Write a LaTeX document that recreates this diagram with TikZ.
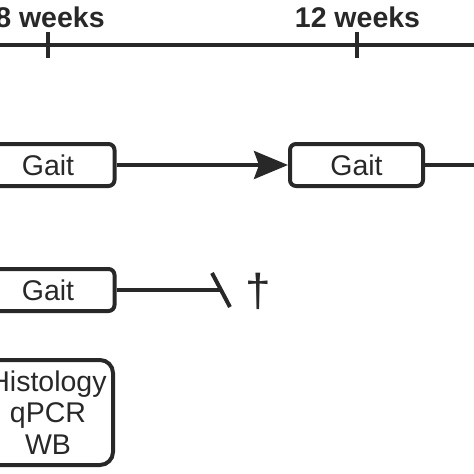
\documentclass[tikz,border=0pt]{standalone}
\usepackage{fontspec}
\setmainfont{Liberation Sans}
\usetikzlibrary{arrows.meta}
\definecolor{dk}{RGB}{40,40,40}
\tikzset{
  gaitbox/.style={draw=dk, line width=4pt, rounded corners=6pt, minimum width=133pt, minimum height=42pt, inner sep=0pt, outer sep=2pt, text=dk, font=\fontsize{28.5}{31.5}\selectfont},
  labbox/.style={gaitbox, rounded corners=13pt, minimum width=130pt, minimum height=105pt, align=center},
  weeklabel/.style={anchor=base, inner sep=0pt, text=dk, font=\fontsize{28.5}{31.5}\selectfont\bfseries},
  conn/.style={draw=dk, line width=3.8pt},
  tline/.style={draw=dk, line width=4pt},
}
\begin{document}
\begin{tikzpicture}[x=1pt, y=-1pt]
\useasboundingbox (0,0) rectangle (474,474);
% timeline
\coordinate (tl0) at (-10,45);
\coordinate (tl1) at (490,45);
\coordinate (t8a) at (48,32);
\coordinate (t8b) at (48,58);
\coordinate (t12a) at (357,32);
\coordinate (t12b) at (357,58);
\draw[tline] (tl0) -- (tl1);
\draw[tline] (t8a) -- (t8b);
\draw[tline] (t12a) -- (t12b);
\node[weeklabel] (w8) at (50,27) {8 weeks};
\node[weeklabel] (w12) at (357.5,27) {12 weeks};
% row 1
\node[gaitbox] (g1) at (48,165) {Gait};
\node[gaitbox] (g2) at (356.5,165) {Gait};
\coordinate (r1end) at (490,165);
\draw[conn, -{Stealth[length=34pt, width=28pt, inset=5pt]}] (g1.east) -- (g2.west);
\draw[conn] (g2.east) -- (r1end);
% row 2
\node[gaitbox] (g3) at (48,290) {Gait};
\coordinate (stop) at (221,290);
\coordinate (bara) at (212,273);
\coordinate (barb) at (230,307);
\draw[conn] (g3.east) -- (stop);
\draw[conn, line width=4pt] (bara) -- (barb);
\node[inner sep=0pt, text=dk, font=\fontsize{46}{46}\selectfont] (dag) at (258,291) {†};
% row 3
\node[labbox] (h) at (48,412.5) {Histology\\qPCR\\WB};
\end{tikzpicture}
\end{document}
